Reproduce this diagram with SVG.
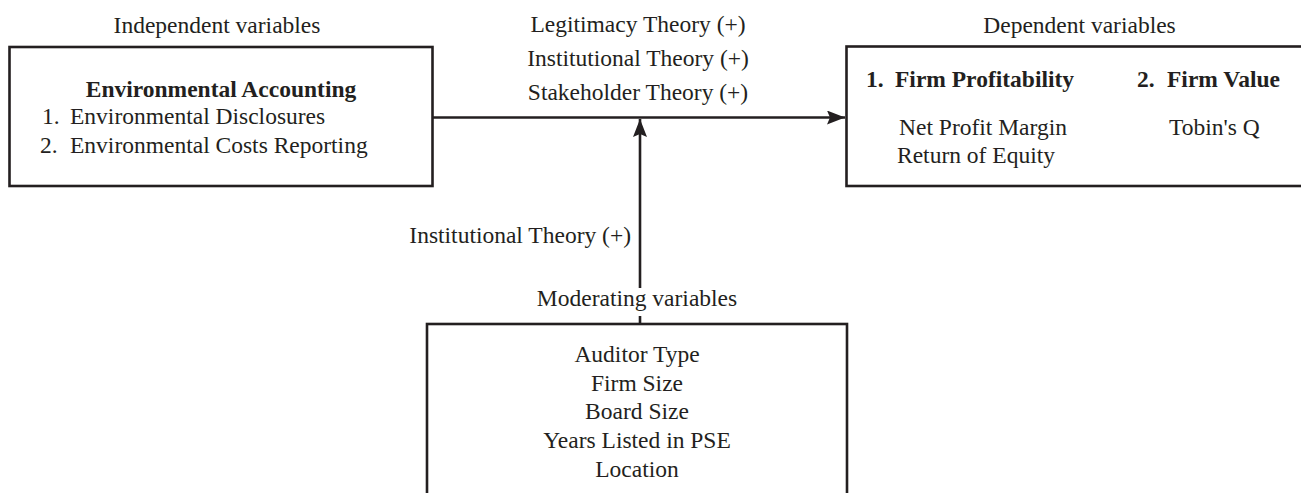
<svg xmlns="http://www.w3.org/2000/svg" width="1301" height="493" viewBox="0 0 1301 493">
  <style>
    text { font-family: "Liberation Serif", "Times New Roman", serif; font-size: 23.5px; fill: #231f20; }
    .b { font-weight: bold; }
    .c { text-anchor: middle; }
    .e { text-anchor: end; }
    .box { fill: #ffffff; stroke: #231f20; stroke-width: 2.6; }
    .ln { fill: none; stroke: #231f20; stroke-width: 2.6; }
  </style>
  <defs>
    <marker id="arr" markerUnits="userSpaceOnUse" markerWidth="20" markerHeight="16" refX="18" refY="7" orient="auto">
      <path d="M0,0 L18,7 L0,14 L3,7 Z" fill="#231f20"/>
    </marker>
  </defs>
  <rect width="1301" height="493" fill="#ffffff"/>

  <g id="connectors">
    <line class="ln" x1="433" y1="117.5" x2="845" y2="117.5" marker-end="url(#arr)"/>
    <line class="ln" x1="640" y1="324" x2="640" y2="119" marker-end="url(#arr)"/>
  </g>

  <g id="independent">
    <text class="c" x="217" y="33">Independent variables</text>
    <rect class="box" x="9.5" y="47" width="423" height="139"/>
    <text class="b c" x="221" y="97">Environmental Accounting</text>
    <text x="42" y="124">1.</text>
    <text x="70" y="124">Environmental Disclosures</text>
    <text x="40" y="153">2.</text>
    <text x="70" y="153">Environmental Costs Reporting</text>
  </g>

  <g id="theories">
    <text class="c" x="638" y="32">Legitimacy Theory (+)</text>
    <text class="c" x="638" y="66">Institutional Theory (+)</text>
    <text class="c" x="638" y="100">Stakeholder Theory (+)</text>
  </g>

  <g id="dependent">
    <text class="c" x="1079.5" y="33">Dependent variables</text>
    <rect class="box" x="846.5" y="46.5" width="470" height="139.5"/>
    <text class="b" x="866" y="87">1.</text>
    <text class="b" x="895" y="87">Firm Profitability</text>
    <text class="b" x="1137" y="87">2.</text>
    <text class="b" x="1167" y="87">Firm Value</text>
    <text x="899" y="135">Net Profit Margin</text>
    <text x="897" y="163">Return of Equity</text>
    <text x="1169" y="135">Tobin's Q</text>
  </g>

  <g id="moderator-label">
    <text class="e" x="631" y="243">Institutional Theory (+)</text>
  </g>

  <g id="moderating">
    <rect x="628" y="288" width="24" height="28" fill="#ffffff"/>
    <text class="c" x="637" y="306">Moderating variables</text>
    <rect class="box" x="427" y="324" width="420" height="200"/>
    <text class="c" x="637" y="362">Auditor Type</text>
    <text class="c" x="637" y="390.5">Firm Size</text>
    <text class="c" x="637" y="419">Board Size</text>
    <text class="c" x="637" y="448">Years Listed in PSE</text>
    <text class="c" x="637" y="477">Location</text>
  </g>
</svg>
